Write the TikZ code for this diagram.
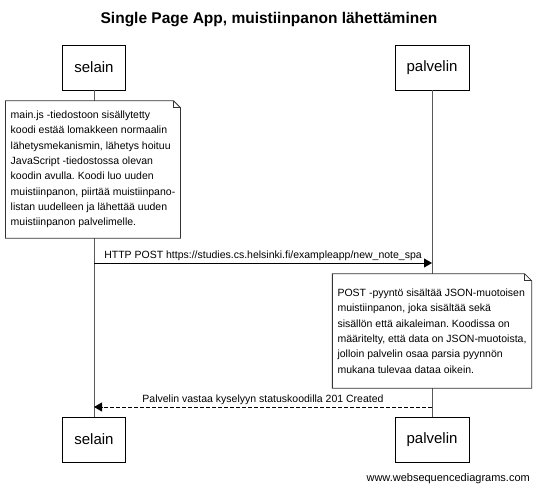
\documentclass[tikz,border=0pt]{standalone}
\usepackage{fontspec}
\setmainfont{Liberation Sans}
\usetikzlibrary{arrows.meta}
\frenchspacing

\begin{document}
\begin{tikzpicture}[x=1pt, y=-1pt,
    actor/.style={draw=black, fill=white, inner sep=0pt, minimum height=45pt,
        minimum width=#1, font=\fontsize{15}{18}\selectfont},
    note/.style={fill=white, inner xsep=5pt, inner ysep=0pt, align=left,
        font=\fontsize{10.5}{15.3}\selectfont},
    lifeline/.style={draw=black!65, line width=0.9pt},
    notebox/.style={draw=black!80, line width=0.8pt},
    msg/.style={draw=black, line width=0.8pt, -{Triangle[length=8pt, width=9pt]}},
    reply/.style={msg, dash pattern=on 4pt off 2pt},
    msglabel/.style={above, inner sep=2pt, font=\fontsize{10.5}{12}\selectfont}]

    \useasboundingbox (0,0) rectangle (538,489);

    % Title
    \node[font=\fontsize{15.5}{18}\bfseries] (title) at (269,20)
        {Single Page App, muistiinpanon lähettäminen};

    % Participants (top and bottom)
    \node[actor=63pt] (selainTop) at (94,67.5) {selain};
    \node[actor=74pt] (palvelinTop) at (432,67.5) {palvelin};
    \node[actor=63pt] (selainBot) at (94,439.5) {selain};
    \node[actor=74pt] (palvelinBot) at (432,439.5) {palvelin};

    % Lifelines
    \draw[lifeline] (selainTop) -- (selainBot);
    \draw[lifeline] (palvelinTop) -- (palvelinBot);

    % Note on selain
    \node[note, minimum width=170pt, minimum height=137pt] (noteSelain) at (93,169.5)
        {main.js -tiedostoon sisällytetty\\
         koodi estää lomakkeen normaalin\\
         lähetysmekanismin, lähetys hoituu\\
         JavaScript -tiedostossa olevan\\
         koodin avulla. Koodi luo uuden\\
         muistiinpanon, piirtää muistiinpano-\\
         listan uudelleen ja lähettää uuden\\
         muistiinpanon palvelimelle.};
    \draw[notebox] (noteSelain.north west) -- ([xshift=-7pt]noteSelain.north east)
        -- ([yshift=-7pt]noteSelain.north east) -- (noteSelain.south east)
        -- (noteSelain.south west) -- cycle;
    \draw[notebox] ([xshift=-7pt]noteSelain.north east)
        -- ([xshift=-7pt, yshift=-7pt]noteSelain.north east)
        -- ([yshift=-7pt]noteSelain.north east);

    % HTTP POST from selain to palvelin
    \coordinate (postS) at (94,263);
    \coordinate (postP) at (432,263);
    \draw[msg] (postS) -- node[msglabel]
        {HTTP POST https://studies.cs.helsinki.fi/exampleapp/new\_note\_spa} (postP);

    % Note on palvelin
    \node[note, minimum width=198pt, minimum height=114pt] (notePalvelin) at (432,331)
        {POST -pyyntö sisältää JSON-muotoisen\\
         muistiinpanon, joka sisältää sekä\\
         sisällön että aikaleiman. Koodissa on\\
         määritelty, että data on JSON-muotoista,\\
         jolloin palvelin osaa parsia pyynnön\\
         mukana tulevaa dataa oikein.};
    \draw[notebox] (notePalvelin.north west) -- ([xshift=-7pt]notePalvelin.north east)
        -- ([yshift=-7pt]notePalvelin.north east) -- (notePalvelin.south east)
        -- (notePalvelin.south west) -- cycle;
    \draw[notebox] ([xshift=-7pt]notePalvelin.north east)
        -- ([xshift=-7pt, yshift=-7pt]notePalvelin.north east)
        -- ([yshift=-7pt]notePalvelin.north east);

    % Response from palvelin to selain
    \coordinate (replyP) at (432,407);
    \coordinate (replyS) at (94,407);
    \draw[reply] (replyP) -- node[msglabel]
        {Palvelin vastaa kyselyyn statuskoodilla 201 Created} (replyS);

    % Watermark
    \node[anchor=east, inner sep=0pt, font=\fontsize{11}{13}\selectfont] (mark) at (530,479)
        {www.websequencediagrams.com};

\end{tikzpicture}
\end{document}
